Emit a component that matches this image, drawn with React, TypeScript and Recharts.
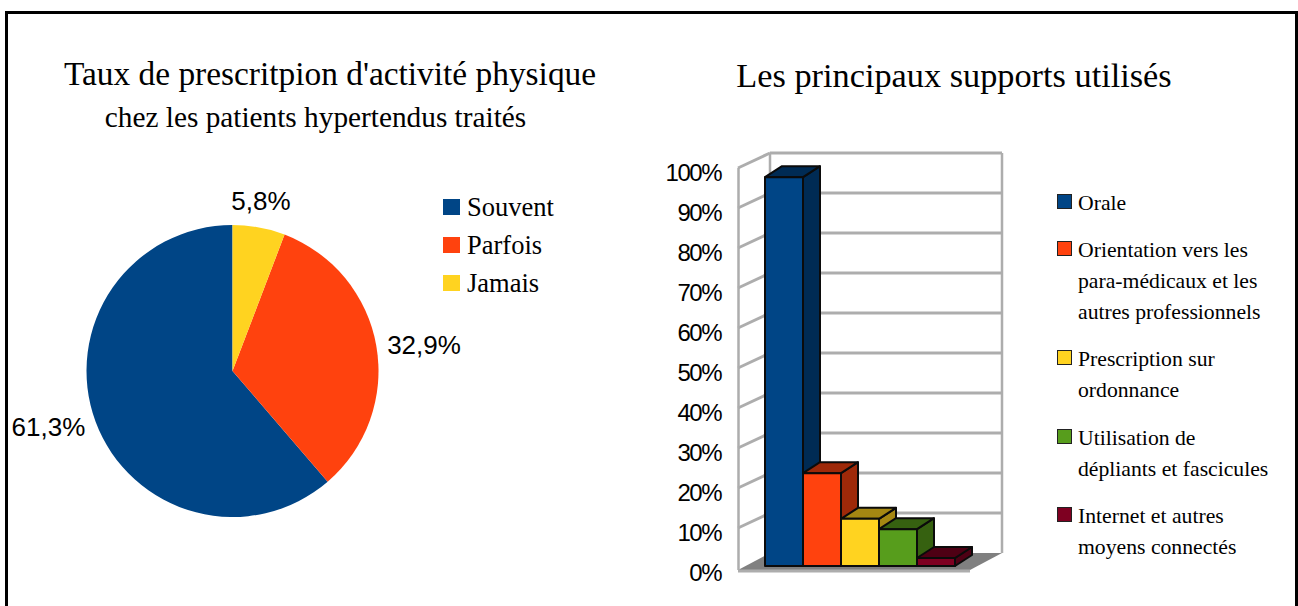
import { PieChart, Pie, Cell, BarChart, Bar, XAxis, YAxis } from "recharts";

const rateNames = ["Souvent", "Parfois", "Jamais"];
const rateValues = [61.3, 32.9, 5.8];
const rateColors = ["#004586", "#ff420e", "#ffd320"];

const supportNames = [
  "Orale",
  "Orientation vers les\npara-médicaux et les\nautres professionnels",
  "Prescription sur\nordonnance",
  "Utilisation de\ndépliants et fascicules",
  "Internet et autres\nmoyens connectés",
];
const supportValues = [97.2, 23.2, 11.8, 9.2, 2];
const supportColors = ["#004586", "#ff420e", "#ffd320", "#579d1c", "#7e0021"];
const supportSideColors = ["#002b54", "#9e2909", "#a58712", "#366110", "#4e0014"];
const yTicks = [0, 10, 20, 30, 40, 50, 60, 70, 80, 90, 100];

const pieData = rateNames.map((name, i) => ({ name, value: rateValues[i] }));
const barRow: Record<string, any> = { category: "Supports" };
supportNames.forEach((name, i) => {
  barRow[`s${i}`] = supportValues[i];
});

const SERIF = "'Liberation Serif', serif";
const SANS = "'Liberation Sans', sans-serif";
const GRID = "#adadad";
const DEPTH_X = 17;
const DEPTH_Y = 11;

const PieLabel = (props: any) => {
  const { cx, cy, midAngle, outerRadius, value } = props;
  const rad = (-midAngle * Math.PI) / 180;
  const r = outerRadius + 11;
  const x = cx + r * Math.cos(rad);
  const y = cy + r * Math.sin(rad);
  const top = Math.abs(Math.cos(rad)) < 0.5;
  const anchor = top ? "middle" : Math.cos(rad) > 0 ? "start" : "end";
  return (
    <text
      x={x}
      y={top ? y - 7 : y + 10}
      textAnchor={anchor}
      fontFamily={SANS}
      fontSize={26}
      fill="#000"
    >
      {String(value).replace(".", ",") + "%"}
    </text>
  );
};

// walls of the 3D box hang off each y tick
const WallTick = (props: any) => {
  const { y, payload } = props;
  const isZero = payload.value === 0;
  const isTop = payload.value === 100;
  const front = y + 2;
  const back = y - 13;
  return (
    <g>
      {isZero && (
        <polygon
          points={`98,${y + 4} 130,${back} 362,${back} 330,${y + 4}`}
          fill="#808080"
        />
      )}
      {isZero && <line x1={98} x2={330} y1={y + 5} y2={y + 5} stroke={GRID} strokeWidth={3} />}
      {isTop && (
        <g stroke={GRID} strokeWidth={2.5} fill="none">
          <line x1={98.5} x2={98.5} y1={front} y2={front + 402} />
          <line x1={130} x2={130} y1={back} y2={back + 400} />
          <line x1={362} x2={362} y1={back} y2={back + 400} />
        </g>
      )}
      {!isZero && (
        <g stroke={GRID} strokeWidth={3} fill="none">
          <line x1={98} y1={front} x2={130} y2={back} />
          <line x1={130} y1={back} x2={362} y2={back} />
        </g>
      )}
      <text
        x={81}
        y={y + 15}
        textAnchor="end"
        fontFamily={SANS}
        fontSize={24}
        letterSpacing={-1.5}
        fill="#000"
      >
        {payload.value + "%"}
      </text>
    </g>
  );
};

const Box3D = (props: any) => {
  const { x, y, width, height, fill, side } = props;
  const r = x + width;
  const b = y + height;
  const dx = DEPTH_X;
  const dy = DEPTH_Y;
  return (
    <g stroke="#0b0b0b" strokeWidth={2} strokeLinejoin="round">
      <polygon points={`${r},${y} ${r + dx},${y - dy} ${r + dx},${b - dy} ${r},${b}`} fill={side} />
      <polygon points={`${x},${y} ${x + dx},${y - dy} ${r + dx},${y - dy} ${r},${y}`} fill={side} />
      <rect x={x} y={y} width={width} height={height} fill={fill} />
    </g>
  );
};

const titleStyle = {
  position: "absolute",
  fontFamily: SERIF,
  color: "#000",
  whiteSpace: "nowrap",
  transform: "translateX(-50%)",
  lineHeight: 1,
} as const;

export default function App() {
  return (
    <div
      style={{
        position: "absolute",
        left: 0,
        top: 0,
        width: 1298,
        height: 606,
        overflow: "hidden",
        background: "#fff",
      }}
    >
      <div
        style={{
          position: "absolute",
          left: 5,
          top: 11,
          width: 1293,
          height: 640,
          boxSizing: "border-box",
          border: "3px solid #000",
        }}
      />
      <div style={{ ...titleStyle, left: 330, top: 57, fontSize: 33.4 }}>
        Taux de prescritpion d'activité physique
      </div>
      <div style={{ ...titleStyle, left: 315.5, top: 103, fontSize: 29.3 }}>
        chez les patients hypertendus traités
      </div>
      <div style={{ ...titleStyle, left: 954, top: 58, fontSize: 34.3 }}>
        Les principaux supports utilisés
      </div>

      <div style={{ position: "absolute", left: 0, top: 0 }}>
        <PieChart width={640} height={606} margin={{ top: 0, right: 0, bottom: 0, left: 0 }}>
          <Pie
            data={pieData}
            dataKey="value"
            nameKey="name"
            cx={232.5}
            cy={371}
            outerRadius={146}
            startAngle={90}
            endAngle={450}
            stroke="none"
            label={PieLabel}
            labelLine={false}
            isAnimationActive={false}
          >
            {pieData.map((entry, index) => (
              <Cell key={`cell-${index}`} fill={rateColors[index]} />
            ))}
          </Pie>
        </PieChart>
      </div>

      <div
        style={{ position: "absolute", left: 443, top: 188, fontFamily: SERIF, fontSize: 26.5, color: "#000" }}
      >
        {rateNames.map((name, i) => (
          <div key={name} style={{ display: "flex", alignItems: "center", height: 38 }}>
            <span style={{ width: 17, height: 16, marginRight: 7, background: rateColors[i] }} />
            {name}
          </div>
        ))}
      </div>

      {/* axes paint over bars, so walls and ticks sit in their own chart underneath */}
      <div style={{ position: "absolute", left: 640, top: 100 }}>
        <BarChart
          width={658}
          height={506}
          data={[barRow]}
          margin={{ top: 66, right: 341, bottom: 40, left: 0 }}
        >
          <XAxis dataKey="category" hide />
          <YAxis
            width={125}
            domain={[0, 100]}
            ticks={yTicks}
            interval={0}
            axisLine={false}
            tickLine={false}
            tick={WallTick}
          />
          <Bar dataKey="s0" fill="none" isAnimationActive={false} shape={() => null} />
        </BarChart>
      </div>

      <div style={{ position: "absolute", left: 640, top: 100 }}>
        <BarChart
          width={658}
          height={506}
          data={[barRow]}
          margin={{ top: 66, right: 341, bottom: 40, left: 125 }}
          barCategoryGap={0}
          barGap={0}
        >
          <XAxis dataKey="category" hide />
          <YAxis hide domain={[0, 100]} ticks={yTicks} />
          {supportNames.map((name, i) => (
            <Bar
              key={name}
              name={name}
              dataKey={`s${i}`}
              fill={supportColors[i]}
              isAnimationActive={false}
              shape={(p: any) => <Box3D {...p} side={supportSideColors[i]} />}
            />
          ))}
        </BarChart>
      </div>

      <div
        style={{
          position: "absolute",
          left: 1057,
          top: 188,
          fontFamily: SERIF,
          fontSize: 21.7,
          lineHeight: "31px",
          color: "#000",
        }}
      >
        {supportNames.map((name, i) => (
          <div key={name} style={{ display: "flex", marginBottom: 16.2 }}>
            <span
              style={{
                width: 15,
                height: 15,
                boxSizing: "border-box",
                marginTop: 6,
                marginRight: 6,
                flex: "none",
                background: supportColors[i],
                border: "1px solid #222",
              }}
            />
            <span style={{ whiteSpace: "pre-line" }}>{name}</span>
          </div>
        ))}
      </div>
    </div>
  );
}
